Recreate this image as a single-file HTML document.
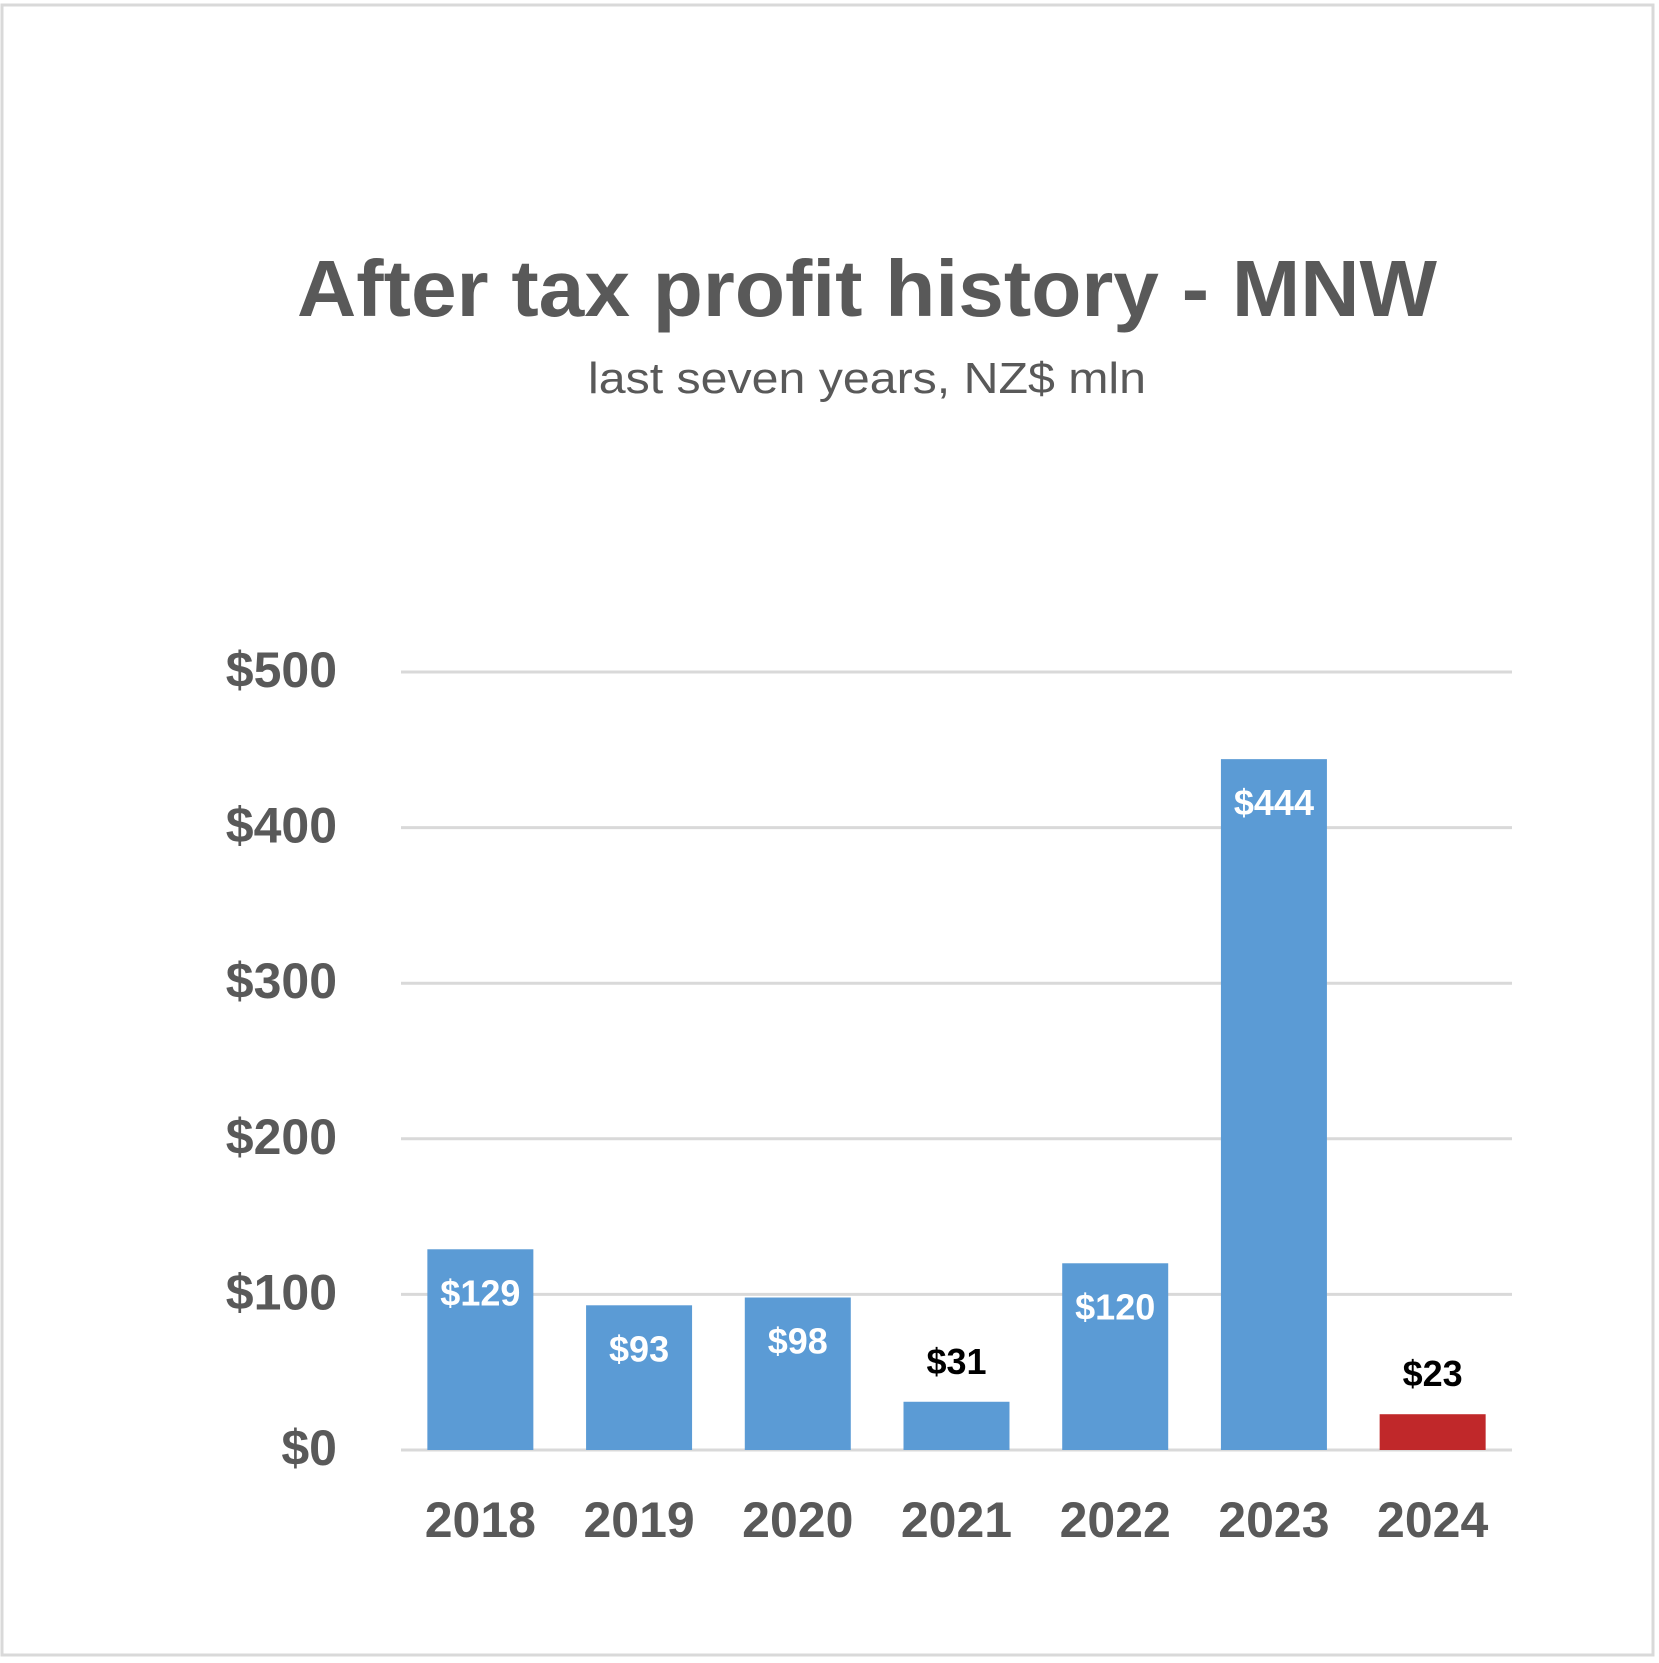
<!DOCTYPE html>
<html><head><meta charset="utf-8"><style>
html,body{margin:0;padding:0;background:#fff;}
svg{display:block;font-family:"Liberation Sans",sans-serif;}
</style></head><body>
<svg id="chart" width="1659" height="1663" viewBox="0 0 1659 1663">
<rect x="2" y="5" width="1651" height="1650" fill="#fff" stroke="#d9d9d9" stroke-width="3"/>
<text x="867" y="316" text-anchor="middle" font-size="80" font-weight="bold" fill="#595959" textLength="1140" lengthAdjust="spacingAndGlyphs">After tax profit history - MNW</text>
<text x="867" y="393" text-anchor="middle" font-size="44" fill="#595959" textLength="558" lengthAdjust="spacingAndGlyphs">last seven years, NZ$ mln</text>
<g id="grid"></g><g id="bars"></g><g id="labels"></g>
</svg>
<script>
const categories=["2018","2019","2020","2021","2022","2023","2024"];
const values=[129,93,98,31,120,444,23];
const valueLabels=["$129","$93","$98","$31","$120","$444","$23"];
const ticks=[0,100,200,300,400,500];
const tickLabels=["$0","$100","$200","$300","$400","$500"];
const NS="http://www.w3.org/2000/svg";
const x0=401,x1=1512,y0=1450,yTop=672;
const y=v=>y0-(v/500)*(y0-yTop);
const band=(x1-x0)/categories.length;
const bx=i=>x0+band*i+band/2;
function mk(t,a,p){const e=document.createElementNS(NS,t);for(const k in a)e.setAttribute(k,a[k]);p.appendChild(e);return e;}
const grid=document.getElementById('grid');
ticks.forEach((t,i)=>{
 const l=mk('line',{x1:x0,x2:x1,y1:y(t),y2:y(t),stroke:'#d9d9d9','stroke-width':3},grid);
 
 
 const tx=mk('text',{x:337,y:y(t)+15,'text-anchor':'end','font-size':50,'font-weight':'bold',fill:'#595959'},grid);
 tx.textContent=tickLabels[i];
 
 
});
const bars=document.getElementById('bars'),labels=document.getElementById('labels');
const bw=106;
categories.forEach((c,i)=>{
 const v=values[i];
 const last=i===categories.length-1;
 const r=mk('rect',{x:bx(i)-bw/2,y:y(v),width:bw,height:y0-y(v),fill:last?'#c0282a':'#5b9bd5'},bars);
 
 
 const outside=v<60;
 const ly=outside?y(v)-28:y(v)+56;
 const t=mk('text',{x:bx(i),y:ly,'text-anchor':'middle','font-size':36,'font-weight':'bold',fill:outside?'#000':'#fff'},labels);
 t.textContent=valueLabels[i];
 
 
 const xl=mk('text',{x:bx(i),y:1537,'text-anchor':'middle','font-size':50,'font-weight':'bold',fill:'#595959'},labels);
 xl.textContent=c;
 
 
});
</script>
</body></html>
